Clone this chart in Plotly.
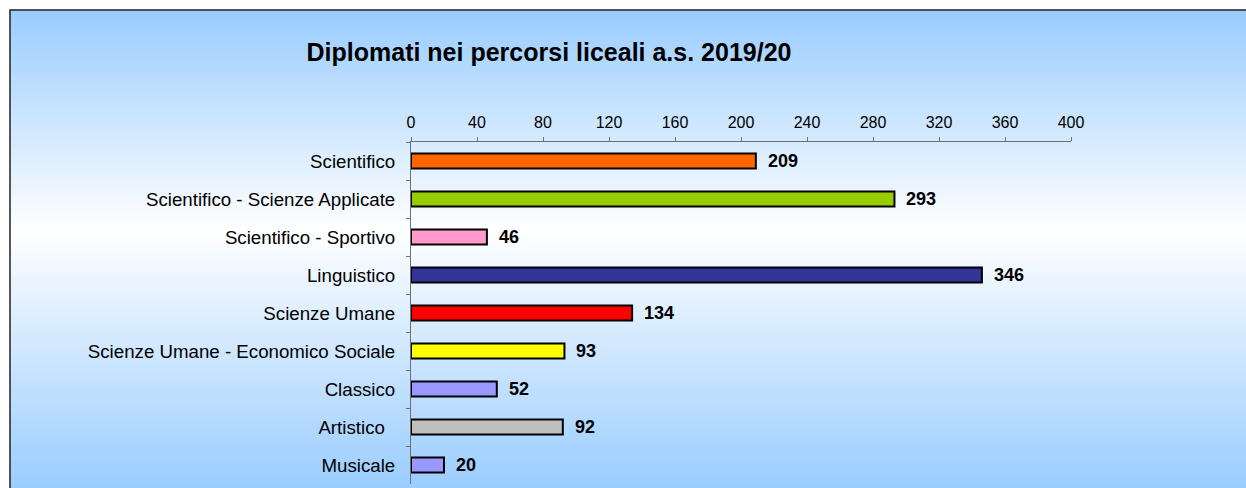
import plotly.graph_objects as go

# data
categories = ["Scientifico", "Scientifico - Scienze Applicate", "Scientifico - Sportivo",
              "Linguistico", "Scienze Umane", "Scienze Umane - Economico Sociale",
              "Classico", "Artistico\u00a0\u00a0", "Musicale"]
values = [209, 293, 46, 346, 134, 93, 52, 92, 20]
bar_colors = ["#FF6600", "#99CC00", "#FF99CC", "#333399", "#FF0000",
              "#FFFF00", "#9999FF", "#C0C0C0", "#9999FF"]
x_ticks = list(range(0, 401, 40))
title = "Diplomati nei percorsi liceali a.s. 2019/20"

W, H = 1246, 488
L, R, T, B = 411, 175, 142, 4
pw, ph = W - L - R, H - T - B

def px_x(p):
    return (p - L) / pw

def px_y(p):
    return (H - B - p) / ph

fig = go.Figure()
fig.add_trace(go.Bar(
    y=categories, x=values, orientation="h",
    marker=dict(color=bar_colors, line=dict(color="black", width=2)),
    width=0.4, hoverinfo="skip",
))

#value labels
for c, v in zip(categories, values):
    fig.add_annotation(x=v, y=c, text="<b>%d</b>" % v, showarrow=False,
                       xanchor="left", xshift=10,
                       font=dict(family="Liberation Sans", size=18, color="black"))

#background gradient + frame
shapes = []
top_c = (153, 204, 255)
mid = 230
step = 4
for p in range(10, 492, step):
    yc = p + step / 2
    if yc < mid:
        t = (mid - yc) / (mid - 10)
    else:
        t = (yc - mid) / (490 - mid)
    t = min(max(t, 0), 1)
    col = tuple(round(255 + (c - 255) * t) for c in top_c)
    shapes.append(dict(type="rect", xref="paper", yref="paper", layer="below",
                       x0=px_x(10), x1=px_x(1260), y0=px_y(p), y1=px_y(p + step + 0.5),
                       line=dict(width=0), fillcolor="rgb(%d,%d,%d)" % col))
shapes.append(dict(type="rect", xref="paper", yref="paper", layer="below",
                   x0=px_x(10), x1=px_x(1260), y0=px_y(10), y1=px_y(500),
                   line=dict(color="#222222", width=1.5), fillcolor="rgba(0,0,0,0)"))

fig.update_layout(
    width=W, height=H,
    margin=dict(l=L, r=R, t=T, b=B),
    paper_bgcolor="white", plot_bgcolor="rgba(0,0,0,0)",
    shapes=shapes,
    showlegend=False,
    font=dict(family="Liberation Sans", color="black"),
    title=dict(text="<b>%s</b>" % title, x=549 / W, xanchor="center",
               y=1 - 52 / H, yanchor="middle", font=dict(size=25, family="Liberation Sans")),
)
fig.update_xaxes(
    range=[0, 400], side="top", tickvals=x_ticks, showgrid=False, zeroline=False,
    showline=True, linecolor="#707070", linewidth=1, ticks="outside", ticklen=4,
    tickcolor="#707070", tickfont=dict(size=16), ticklabelstandoff=3, fixedrange=True,
)
fig.update_yaxes(
    categoryorder="array", categoryarray=categories, autorange="reversed",
    showgrid=False, zeroline=False, showline=True, linecolor="#707070", linewidth=1,
    ticks="outside", ticklen=4, tickcolor="#707070", tickson="boundaries",
    tickfont=dict(size=18.7), ticklabelstandoff=11, fixedrange=True,
)

# page body has a default margin; drop it so the figure sits at 0,0
fig.write_html("out.html", config={"displayModeBar": False},
               post_script="document.body.style.margin='0';")
